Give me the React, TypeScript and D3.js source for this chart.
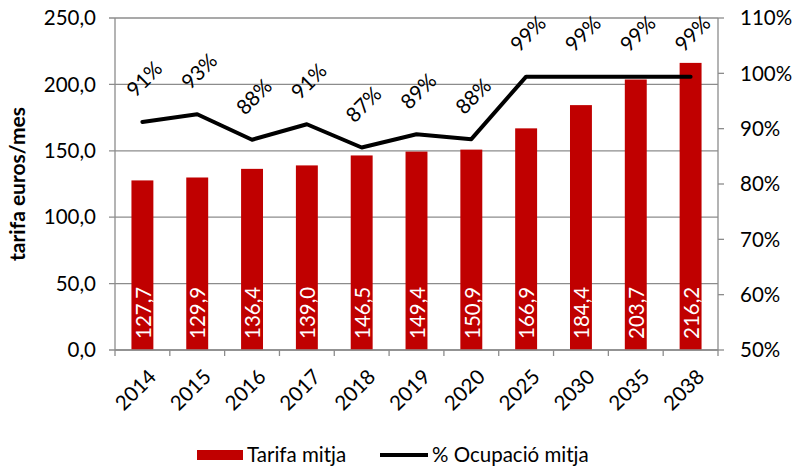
import React, { useRef, useEffect } from "react";
import * as d3 from "d3";

const years = ["2014", "2015", "2016", "2017", "2018", "2019", "2020", "2025", "2030", "2035", "2038"];
const tarifa = [127.7, 129.9, 136.4, 139.0, 146.5, 149.4, 150.9, 166.9, 184.4, 203.7, 216.2];
const ocupacio = [91.2, 92.6, 88.0, 90.8, 86.6, 89.0, 88.1, 99.4, 99.4, 99.4, 99.4];
const leftTicks = [0, 50, 100, 150, 200, 250];
const rightTicks = [50, 60, 70, 80, 90, 100, 110];

const FONT = "Lato, 'Open Sans', sans-serif";

const App = () => {
  const ref = useRef<SVGSVGElement>(null);

  useEffect(() => {
    const width = 796;
    const height = 467;
    const m = { left: 115, right: 78, top: 18, bottom: 117 };
    const svg = d3.select(ref.current);
    svg.selectAll("*").remove();
    svg.attr("width", width).attr("height", height).style("font-family", FONT);

    const x = d3.scaleBand().domain(years).range([m.left, width - m.right]).paddingInner(0.6).paddingOuter(0.3);
    const band = d3.scaleBand().domain(years).range([m.left, width - m.right]);
    const y = d3.scaleLinear().domain([0, 250]).range([height - m.bottom, m.top]);
    const y2 = d3.scaleLinear().domain([50, 110]).range([height - m.bottom, m.top]);
    const x0 = m.left;
    const x1 = width - m.right;
    const yb = height - m.bottom;
    const grey = "#8c8c8c";
    const fs = 20.5;

    // gridlines + left ticks
    svg.append("g").selectAll("line").data(leftTicks).join("line")
      .attr("x1", x0 - 6).attr("x2", x1).attr("y1", (d) => y(d)).attr("y2", (d) => y(d))
      .attr("stroke", grey).attr("stroke-width", 1.3);
    svg.append("g").selectAll("text").data(leftTicks).join("text")
      .attr("x", x0 - 19).attr("y", (d) => y(d)).attr("dy", "0.35em")
      .attr("text-anchor", "end").attr("font-size", fs).attr("fill", "#000")
      .text((d) => d3.format(".1f")(d).replace(".", ","));

    // bars
    svg.append("g").selectAll("rect").data(tarifa).join("rect")
      .attr("x", (d, i) => x(years[i])!).attr("width", x.bandwidth())
      .attr("y", (d) => y(d)).attr("height", (d) => yb - y(d)).attr("fill", "#c00000");

    svg.append("g").selectAll("text").data(tarifa).join("text")
      .attr("transform", (d, i) => `translate(${x(years[i])! + x.bandwidth() / 2 + 1},${yb - 11}) rotate(-90)`)
      .attr("dy", "0.35em").attr("fill", "#fff").attr("font-size", fs)
      .text((d) => d3.format(".1f")(d).replace(".", ","));

    // axes lines
    svg.append("line").attr("x1", x0).attr("x2", x0).attr("y1", m.top).attr("y2", yb + 6).attr("stroke", grey).attr("stroke-width", 1.3);
    svg.append("line").attr("x1", x1).attr("x2", x1).attr("y1", m.top).attr("y2", yb + 6).attr("stroke", grey).attr("stroke-width", 1.3);
    svg.append("line").attr("x1", x0).attr("x2", x1).attr("y1", yb).attr("y2", yb).attr("stroke", grey).attr("stroke-width", 1.3);
    svg.append("g").selectAll("line").data(years.slice(1)).join("line")
      .attr("x1", (d) => band(d)!).attr("x2", (d) => band(d)!).attr("y1", yb).attr("y2", yb + 6)
      .attr("stroke", grey).attr("stroke-width", 1.3);

    // right axis
    svg.append("g").selectAll("line").data(rightTicks).join("line")
      .attr("x1", x1).attr("x2", x1 + 6).attr("y1", (d) => y2(d)).attr("y2", (d) => y2(d))
      .attr("stroke", grey).attr("stroke-width", 1.3);
    svg.append("g").selectAll("text").data(rightTicks).join("text")
      .attr("x", x1 + 22).attr("y", (d) => y2(d)).attr("dy", "0.35em")
      .attr("font-size", fs).attr("fill", "#000")
      .text((d) => `${d}%`);

    // x labels
    svg.append("g").selectAll("text").data(years).join("text")
      .attr("transform", (d) => `translate(${band(d)! + band.bandwidth() / 2 + 10},${yb + 23}) rotate(-45)`)
      .attr("text-anchor", "end").attr("dy", "0.35em").attr("font-size", fs).attr("fill", "#000")
      .text((d) => d);

    // line
    const cx = (i: number) => band(years[i])! + band.bandwidth() / 2;
    const line = d3.line<number>().x((d, i) => cx(i)).y((d) => y2(d));
    svg.append("path").datum(ocupacio).attr("d", line).attr("fill", "none")
      .attr("stroke", "#000").attr("stroke-width", 4).attr("stroke-linecap", "round").attr("stroke-linejoin", "round");
    svg.append("g").selectAll("text").data(ocupacio).join("text")
      .attr("transform", (d, i) => `translate(${cx(i) + 2},${y2(d) - 43}) rotate(-45)`)
      .attr("text-anchor", "middle").attr("dy", "0.35em").attr("font-size", fs).attr("fill", "#000")
      .text((d) => `${Math.round(d)}%`);

    // y title
    svg.append("text").attr("transform", `translate(25,${(m.top + yb) / 2}) rotate(-90)`)
      .attr("text-anchor", "middle").attr("font-size", 21).attr("font-weight", "bold").text("tarifa euros/mes");

    // legend
    const lg = svg.append("g").attr("transform", "translate(0,455)");
    lg.append("rect").attr("x", 197).attr("y", -5).attr("width", 46).attr("height", 10).attr("fill", "#c00000");
    lg.append("text").attr("x", 247).attr("dy", "0.35em").attr("font-size", fs).text("Tarifa mitja");
    lg.append("line").attr("x1", 380).attr("x2", 428).attr("stroke", "#000").attr("stroke-width", 4);
    lg.append("text").attr("x", 432).attr("dy", "0.35em").attr("font-size", fs).text("% Ocupació mitja");
  }, []);

  return <svg ref={ref} style={{ position: "absolute", left: 0, top: 0 }} />;
};

export default App;
